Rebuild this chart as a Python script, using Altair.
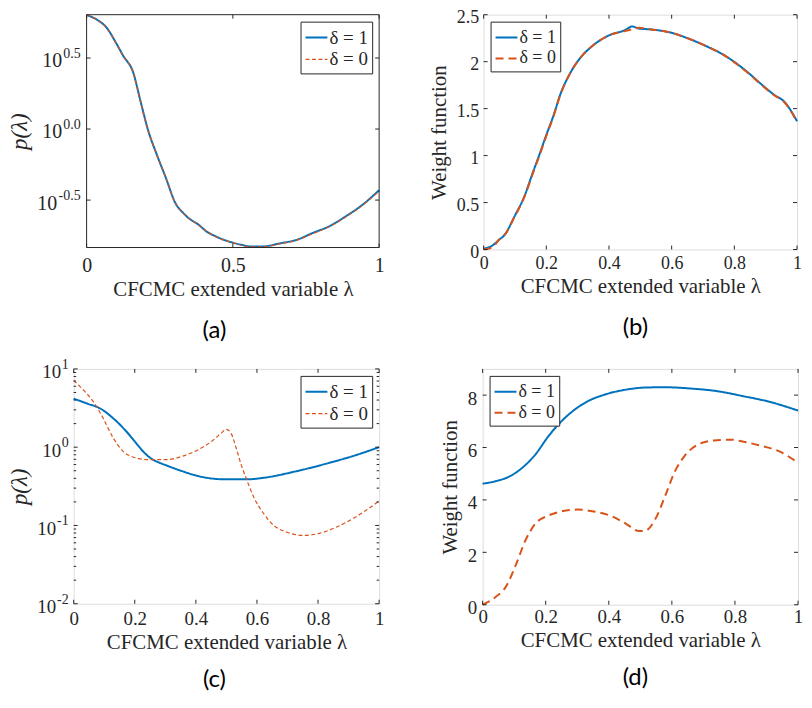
import altair as alt
import pandas as pd

SER = ["δ = 1", "δ = 0"]
BLUE = "#0072BD"
ORANGE = "#D95319"
INK = "#262626"
SERIF = "Liberation Serif"
CAPFONT = "Lato"

# ---------------- panel (a): p(lambda), log axis ----------------
a_lam = [0.0, 0.035, 0.069, 0.10, 0.125, 0.159, 0.185, 0.209, 0.24, 0.27, 0.304, 0.33,
         0.349, 0.383, 0.41, 0.438, 0.47, 0.494, 0.53, 0.561, 0.60, 0.662, 0.718, 0.774,
         0.83, 0.886, 0.942, 1.0]
a_p1 = [6.34, 5.89, 5.15, 4.06, 3.28, 2.51, 1.55, 1.00, 0.66, 0.459, 0.300, 0.257,
        0.236, 0.212, 0.190, 0.177, 0.166, 0.160, 0.153, 0.149, 0.149, 0.157, 0.166, 0.186,
        0.207, 0.243, 0.292, 0.371]
a_p0 = [6.34, 5.88, 5.13, 4.05, 3.27, 2.50, 1.53, 0.99, 0.66, 0.457, 0.299, 0.256,
        0.235, 0.211, 0.191, 0.176, 0.165, 0.160, 0.152, 0.148, 0.148, 0.156, 0.165, 0.184,
        0.206, 0.241, 0.289, 0.366]
a_xticks = [0.0, 0.5, 1.0]
a_yticks = [0.316228, 1.0, 3.162278]
a_yexp = ["-0.5", "0.0", "0.5"]
a_ydom = [0.1466, 6.38]

# ---------------- panel (b): weight function ----------------
b_lam = [0.0, 0.027, 0.048, 0.068, 0.099, 0.13, 0.156, 0.178, 0.199, 0.224, 0.244, 0.275,
         0.306, 0.348, 0.40, 0.451, 0.474, 0.495, 0.534, 0.596, 0.658, 0.72, 0.762, 0.803,
         0.845, 0.886, 0.928, 0.959, 1.0]
b_w1 = [0.01, 0.04, 0.10, 0.16, 0.355, 0.565, 0.81, 1.01, 1.21, 1.436, 1.645, 1.87,
        2.03, 2.17, 2.28, 2.336, 2.375, 2.353, 2.343, 2.31, 2.24, 2.15, 2.08, 1.99,
        1.88, 1.76, 1.645, 1.575, 1.366]
b_w0 = [0.0, 0.02, 0.10, 0.16, 0.35, 0.56, 0.80, 1.00, 1.20, 1.43, 1.64, 1.87,
        2.03, 2.17, 2.28, 2.325, 2.345, 2.36, 2.343, 2.31, 2.24, 2.15, 2.08, 1.985,
        1.875, 1.755, 1.64, 1.57, 1.36]
b_xticks = [0.0, 0.2, 0.4, 0.6, 0.8, 1.0]
b_yticks = [0.0, 0.5, 1.0, 1.5, 2.0, 2.5]

# ---------------- panel (c): p(lambda), log axis ----------------
c_lam1 = [0.0, 0.044, 0.087, 0.13, 0.173, 0.205, 0.23, 0.255, 0.28, 0.301, 0.355, 0.408,
          0.494, 0.569, 0.623, 0.73, 0.837, 0.923, 1.0]
c_p1 = [4.17, 3.61, 3.12, 2.33, 1.58, 1.12, 0.86, 0.71, 0.635, 0.59, 0.494, 0.427,
        0.389, 0.389, 0.407, 0.494, 0.631, 0.789, 1.0]
c_lam0 = [0.0, 0.033, 0.065, 0.097, 0.13, 0.162, 0.194, 0.248, 0.301, 0.355, 0.408, 0.451,
          0.483, 0.499, 0.515, 0.532, 0.548, 0.564, 0.59, 0.623, 0.655, 0.698, 0.751, 0.805,
          0.859, 0.912, 0.955, 1.0]
c_p0 = [7.11, 5.32, 3.79, 2.33, 1.30, 0.885, 0.75, 0.692, 0.692, 0.766, 0.929, 1.18,
        1.51, 1.69, 1.51, 0.977, 0.603, 0.407, 0.228, 0.140, 0.100, 0.082, 0.0745, 0.0794,
        0.0948, 0.121, 0.154, 0.206]
c_xticks = [0.0, 0.2, 0.4, 0.6, 0.8, 1.0]
c_yticks = [0.01, 0.1, 1.0, 10.0]
c_yexp = ["-2", "-1", "0", "1"]
c_yminor = [m * d for d in [0.01, 0.1, 1.0] for m in [2, 3, 4, 5, 6, 7, 8, 9]]
c_ydom = [0.01, 10.0]

# ---------------- panel (d): weight function ----------------
d_lam1 = [0.0, 0.043, 0.084, 0.126, 0.167, 0.208, 0.249, 0.29, 0.331, 0.393, 0.455, 0.517,
          0.579, 0.661, 0.744, 0.826, 0.908, 1.0]
d_w1 = [4.62, 4.72, 4.89, 5.23, 5.73, 6.42, 6.99, 7.43, 7.75, 8.04, 8.21, 8.29,
        8.30, 8.25, 8.15, 7.96, 7.75, 7.41]
d_lam0 = [0.0, 0.043, 0.074, 0.105, 0.136, 0.167, 0.208, 0.249, 0.301, 0.352, 0.404, 0.455,
          0.496, 0.517, 0.548, 0.579, 0.61, 0.64, 0.682, 0.733, 0.785, 0.836, 0.888, 0.939, 1.0]
d_w0 = [0.0, 0.31, 0.69, 1.51, 2.46, 3.09, 3.40, 3.56, 3.63, 3.56, 3.40, 3.09,
        2.81, 2.83, 3.28, 4.16, 5.10, 5.67, 6.11, 6.27, 6.30, 6.20, 6.05, 5.86, 5.42]
d_xticks = [0.0, 0.2, 0.4, 0.6, 0.8, 1.0]
d_yticks = [0, 2, 4, 6, 8]

XTITLE = "CFCMC extended variable λ"


def long_df(l1, v1, l0, v0):
    return pd.DataFrame({
        "lam": list(l1) + list(l0),
        "val": list(v1) + list(v0),
        "s": [SER[0]] * len(l1) + [SER[1]] * len(l0),
    })


def panel(df, W, H, ys, xticks, yticks, ytitle, log_exps, minor, dash0, w0,
          leg_orient, caption, cap_dx, cap_off, fs, xpad, leg_fs, yext, ypad=5, exp_pad=6,
          ypad_pos=25, ypad_neg=30, ytfs=21, inset=0):
    Wv = W + inset
    if inset:
        xs = alt.Scale(domain=[0, 1], range=[inset, Wv], nice=False, zero=False)
    else:
        xs = alt.Scale(domain=[0, 1], nice=False, zero=False)
    xaxis = alt.Axis(values=xticks, format="~g", ticks=False, domain=False, grid=False,
                     labelFlush=False, labelFont=SERIF, labelFontSize=fs, labelColor=INK,
                     labelPadding=xpad, title=XTITLE, titleFont=SERIF, titleFontSize=21,
                     titleFontWeight="normal", titleColor=INK, titlePadding=3)
    if log_exps is not None:
        yaxis = alt.Axis(values=yticks, labelExpr="'10'", ticks=False, domain=False,
                         grid=False, labelFont=SERIF, labelFontSize=fs, labelColor=INK,
                         labelOffset=3, minExtent=yext, maxExtent=yext, offset=-inset,
                         labelPadding={"condition": {"test": "datum.value < 0.5",
                                                     "value": ypad_neg},
                                       "value": ypad_pos},
                         title=ytitle, titleFont=SERIF, titleFontSize=ytfs,
                         titleFontStyle="italic", titleFontWeight="normal",
                         titleColor=INK, titlePadding=8)
    else:
        yaxis = alt.Axis(values=yticks, format="~g", ticks=False, domain=False, grid=False,
                         labelFont=SERIF, labelFontSize=fs, labelColor=INK, labelOffset=3,
                         minExtent=yext, maxExtent=yext,
                         labelPadding=ypad, title=ytitle, titleFont=SERIF, titleFontSize=ytfs,
                         titleFontWeight="normal", titleColor=INK, titlePadding=7)
    leg = alt.Legend(title=None, orient=leg_orient, offset=7, fillColor="white",
                     strokeColor=INK, padding=4, labelFont=SERIF, labelFontSize=leg_fs,
                     labelColor=INK, symbolType="stroke", symbolSize=484, rowPadding=0,
                     labelOffset=1)
    line = alt.Chart(df).mark_line(interpolate="monotone").encode(
        x=alt.X("lam:Q", scale=xs, axis=xaxis),
        y=alt.Y("val:Q", scale=ys, axis=yaxis),
        color=alt.Color("s:N", scale=alt.Scale(domain=SER, range=[BLUE, ORANGE]), legend=leg),
        strokeDash=alt.StrokeDash("s:N", scale=alt.Scale(domain=SER, range=[[1, 0], dash0]),
                                  legend=leg),
        strokeWidth=alt.StrokeWidth("s:N", scale=alt.Scale(domain=SER, range=[2.0, w0]),
                                    legend=leg),
    )
    layers = [line]
    L = 4
    xt = pd.DataFrame({"lam": xticks})
    yt = pd.DataFrame({"val": yticks})
    rule = dict(color=INK, strokeWidth=1)
    X = alt.X("lam:Q", scale=xs, axis=xaxis)
    Y = alt.Y("val:Q", scale=ys, axis=yaxis)
    if inset:
        # frame around the data rectangle (view border is hidden for this panel)
        ends = pd.DataFrame({"lam": [0.0, 1.0]})
        span = pd.DataFrame({"lam": [0.0], "lam2": [1.0]})
        layers.append(alt.Chart(ends).mark_rule(**rule).encode(
            x=X, y=alt.value(0), y2=alt.value(H)))
        layers.append(alt.Chart(span).mark_rule(**rule).encode(
            x=X, x2="lam2:Q", y=alt.value(0)))
        layers.append(alt.Chart(span).mark_rule(**rule).encode(
            x=X, x2="lam2:Q", y=alt.value(H)))
    layers.append(alt.Chart(xt).mark_rule(**rule).encode(
        x=X, y=alt.value(H), y2=alt.value(H - L)))
    layers.append(alt.Chart(xt).mark_rule(**rule).encode(
        x=X, y=alt.value(0), y2=alt.value(L)))
    layers.append(alt.Chart(yt).mark_rule(**rule).encode(
        y=Y, x=alt.value(inset), x2=alt.value(inset + L)))
    layers.append(alt.Chart(yt).mark_rule(**rule).encode(
        y=Y, x=alt.value(Wv), x2=alt.value(Wv - L)))
    if minor is not None:
        mt = pd.DataFrame({"val": minor})
        layers.append(alt.Chart(mt).mark_rule(**rule).encode(
            y=Y, x=alt.value(inset), x2=alt.value(inset + 2.5)))
        layers.append(alt.Chart(mt).mark_rule(**rule).encode(
            y=Y, x=alt.value(Wv), x2=alt.value(Wv - 2.5)))
    if log_exps is not None:
        et = pd.DataFrame({"val": yticks, "e": log_exps})
        layers.append(alt.Chart(et).mark_text(
            align="right", baseline="middle", font=SERIF, fontSize=14, color=INK, dy=-4
        ).encode(x=alt.value(inset - exp_pad), y=Y, text="e:N"))
    props = dict(
        width=Wv, height=H,
        title=alt.TitleParams(caption, orient="bottom", anchor="middle", frame="group",
                              font=CAPFONT, fontSize=24, fontWeight="normal",
                              color="black", dx=cap_dx, offset=cap_off),
    )
    if inset:
        props["view"] = alt.ViewBackground(strokeOpacity=0)
    return alt.layer(*layers).properties(**props)


ys_a = alt.Scale(type="log", domain=a_ydom, nice=False)
pa = panel(long_df(a_lam, a_p1, a_lam, a_p0), 294, 234, ys_a, a_xticks, a_yticks,
           "p(λ)", a_yexp, None, [4, 2.5], 1.2, "top-right", "(a)", -12, 20, 20, 8, 19,
           yext=47, exp_pad=6, ypad_pos=25, ypad_neg=30, ytfs=23, inset=13)

ys_b = alt.Scale(domain=[0, 2.5], nice=False, zero=False)
pb = panel(long_df(b_lam, b_w1, b_lam, b_w0), 315, 236, ys_b, b_xticks, b_yticks,
           "Weight function", None, None, [8, 5], 2.0, "top-left", "(b)", -5, 20, 18, 5, 18,
           yext=27, ypad=5)

ys_c = alt.Scale(type="log", domain=c_ydom, nice=False)
pc = panel(long_df(c_lam1, c_p1, c_lam0, c_p0), 307, 236, ys_c, c_xticks, c_yticks,
           "p(λ)", c_yexp, c_yminor, [4, 2.5], 1.2, "top-right", "(c)", -12, 16, 19, 6, 19,
           yext=34, exp_pad=5, ypad_pos=13, ypad_neg=18, ytfs=23)

ys_d = alt.Scale(domain=[0, 9], nice=False, zero=False)
pd_ = panel(long_df(d_lam1, d_w1, d_lam0, d_w0), 317, 237, ys_d, d_xticks, d_yticks,
            "Weight function", None, None, [8, 5], 2.0, "top-left", "(d)", -5, 16, 19, 3, 18,
            yext=15, ypad=6)

IND = dict(color="independent", strokeDash="independent", strokeWidth="independent")
row1 = alt.hconcat(pa, pb, spacing=44).resolve_scale(**IND).resolve_legend(**IND)
row2 = alt.hconcat(pc, pd_, spacing=54).resolve_scale(**IND).resolve_legend(**IND)
chart = alt.vconcat(row1, row2, spacing=14).resolve_scale(**IND).resolve_legend(**IND).properties(
    padding={"left": 0, "top": -2, "right": 0, "bottom": 0}
).configure_view(stroke=INK, strokeWidth=1).configure(background="white")

chart.save("out.html", embed_options={"renderer": "svg", "actions": False})
